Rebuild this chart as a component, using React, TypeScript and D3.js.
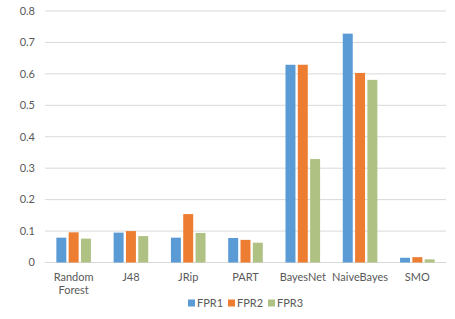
import React from "react";
import * as d3 from "d3";

const categories = ["Random Forest", "J48", "JRip", "PART", "BayesNet", "NaiveBayes", "SMO"];
const categoryLines = [["Random", "Forest"], ["J48"], ["JRip"], ["PART"], ["BayesNet"], ["NaiveBayes"], ["SMO"]];
const seriesNames = ["FPR1", "FPR2", "FPR3"];
const fpr1 = [0.079, 0.095, 0.079, 0.078, 0.629, 0.728, 0.015];
const fpr2 = [0.096, 0.1, 0.154, 0.072, 0.629, 0.603, 0.017];
const fpr3 = [0.076, 0.084, 0.094, 0.063, 0.329, 0.581, 0.01];
const yTicks = [0, 0.1, 0.2, 0.3, 0.4, 0.5, 0.6, 0.7, 0.8];
const colors = ["#5B9BD5", "#ED7D31", "#AFC284"];

export default function App() {
  const W = 455, H = 319;
  const left = 45, right = 446, top = 11, bottom = 262.5;
  const x0 = d3.scaleBand<string>().domain(categories).range([left, right]).paddingInner(0).paddingOuter(0);
  const groupW = 34.6;
  const x1 = d3.scaleBand<string>().domain(seriesNames).range([0, groupW]).paddingInner(0.19).paddingOuter(0);
  const y = d3.scaleLinear().domain([0, 0.8]).range([bottom, top]);
  const data = [fpr1, fpr2, fpr3];
  const font = "Lato, 'Open Sans', sans-serif";
  const txt = "#595959";
  const fmt = (v: number) => (v === 0 ? "0" : d3.format(".1f")(v));
  const legendItems = [
    { x: 188, name: "FPR1" },
    { x: 228, name: "FPR2" },
    { x: 268, name: "FPR3" },
  ];
  return (
    <svg width={W} height={H} style={{ position: "absolute", left: 0, top: 0, background: "#fff" }}>
      {yTicks.map((t) => (
        <g key={t}>
          <line x1={left} x2={right} y1={y(t)} y2={y(t)} stroke="#d9d9d9" strokeWidth={1} />
          <text x={35} y={y(t)} dy="0.35em" textAnchor="end" fontFamily={font} fontSize={11} fill={txt}>
            {fmt(t)}
          </text>
        </g>
      ))}
      {categories.map((c, ci) => {
        const bx = (x0(c) as number) + (x0.bandwidth() - groupW) / 2;
        return (
          <g key={c}>
            {seriesNames.map((s, si) => {
              const v = data[si][ci];
              return (
                <rect
                  key={s}
                  x={bx + (x1(s) as number)}
                  y={y(v)}
                  width={x1.bandwidth()}
                  height={bottom - y(v)}
                  fill={colors[si]}
                />
              );
            })}
            {categoryLines[ci].map((l, li) => (
              <text
                key={li}
                x={(x0(c) as number) + x0.bandwidth() / 2}
                y={277 + li * 13.5}
                dy="0.35em"
                textAnchor="middle"
                fontFamily={font}
                fontSize={11}
                fill={txt}
              >
                {l}
              </text>
            ))}
          </g>
        );
      })}
      {legendItems.map((it, i) => (
        <g key={it.name}>
          <rect x={it.x} y={299.5} width={7} height={7} fill={colors[i]} />
          <text x={it.x + 9} y={303} dy="0.35em" fontFamily={font} fontSize={11} fill={txt}>
            {it.name}
          </text>
        </g>
      ))}
    </svg>
  );
}
